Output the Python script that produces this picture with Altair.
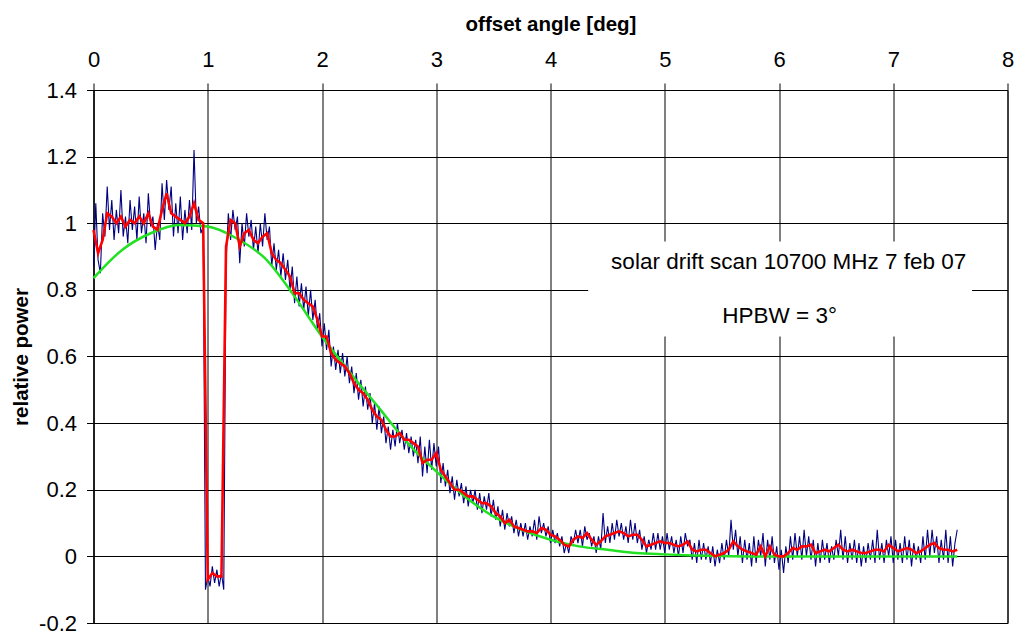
import altair as alt
import numpy as np
import pandas as pd

# Raw receiver samples, one every 0.02 deg of offset angle (10 per row = 0.2 deg)
RAW_STEP = 0.02
raw_power = [
    0.87, 1.06, 0.89, 0.85, 1.03, 0.96, 1.11, 0.98, 1.07, 0.95,
    1.04, 0.97, 1.10, 0.96, 1.02, 0.94, 1.07, 0.98, 1.05, 0.95,
    1.08, 0.97, 1.03, 0.94, 1.09, 0.99, 1.02, 0.92, 1.00, 0.95,
    1.12, 1.01, 1.13, 1.04, 1.11, 0.96, 1.06, 0.97, 1.08, 0.95,
    1.04, 0.97, 1.07, 0.98, 1.22, 1.00, 1.05, 0.97, 0.99, -0.10,
    -0.06, -0.09, -0.03, -0.08, -0.04, -0.09, -0.05, -0.10, 0.88, 1.03,
    0.95, 1.04, 0.98, 1.02, 0.88, 1.00, 0.93, 1.03, 0.96, 1.01,
    0.92, 0.99, 0.91, 1.00, 0.93, 1.03, 0.95, 0.99, 0.87, 0.94,
    0.86, 0.92, 0.84, 0.91, 0.83, 0.89, 0.80, 0.87, 0.76, 0.84,
    0.75, 0.82, 0.74, 0.81, 0.72, 0.80, 0.71, 0.77, 0.68, 0.73,
    0.63, 0.70, 0.62, 0.68, 0.57, 0.63, 0.56, 0.62, 0.55, 0.61,
    0.54, 0.60, 0.52, 0.57, 0.49, 0.55, 0.47, 0.53, 0.45, 0.51,
    0.44, 0.49, 0.40, 0.46, 0.38, 0.45, 0.37, 0.42, 0.34, 0.39,
    0.32, 0.38, 0.33, 0.40, 0.34, 0.38, 0.32, 0.37, 0.31, 0.36,
    0.30, 0.35, 0.28, 0.36, 0.24, 0.33, 0.25, 0.35, 0.26, 0.34,
    0.27, 0.33, 0.22, 0.28, 0.21, 0.26, 0.19, 0.24, 0.17, 0.23,
    0.18, 0.22, 0.16, 0.21, 0.15, 0.20, 0.16, 0.20, 0.14, 0.19,
    0.13, 0.18, 0.14, 0.19, 0.12, 0.17, 0.11, 0.15, 0.09, 0.14,
    0.08, 0.13, 0.09, 0.12, 0.07, 0.11, 0.06, 0.10, 0.06, 0.10,
    0.05, 0.09, 0.06, 0.11, 0.05, 0.12, 0.07, 0.10, 0.06, 0.09,
    0.04, 0.08, 0.04, 0.07, 0.03, 0.06, 0.01, 0.04, 0.01, 0.06,
    0.04, 0.08, 0.04, 0.08, 0.03, 0.09, 0.05, 0.07, 0.03, 0.06,
    0.01, 0.06, 0.02, 0.13, 0.04, 0.09, 0.04, 0.10, 0.05, 0.11,
    0.06, 0.10, 0.05, 0.09, 0.04, 0.11, 0.05, 0.10, 0.04, 0.08,
    0.02, 0.06, 0.01, 0.05, 0.02, 0.07, 0.02, 0.07, 0.02, 0.06,
    0.01, 0.07, 0.02, 0.06, 0.01, 0.05, 0.00, 0.06, 0.01, 0.07,
    0.03, 0.05, -0.01, 0.04, -0.02, 0.05, -0.01, 0.04, -0.01, 0.03,
    -0.02, 0.03, -0.03, 0.02, -0.02, 0.04, -0.01, 0.05, 0.00, 0.11,
    0.02, 0.08, 0.00, 0.06, -0.02, 0.05, -0.01, 0.04, -0.03, 0.06,
    -0.02, 0.05, 0.00, 0.07, -0.03, 0.05, -0.01, 0.06, -0.02, 0.03,
    -0.04, 0.02, -0.05, 0.03, -0.02, 0.06, -0.01, 0.07, 0.00, 0.06,
    -0.01, 0.08, 0.00, 0.06, -0.01, 0.05, -0.03, 0.04, -0.02, 0.05,
    -0.01, 0.04, -0.02, 0.03, -0.01, 0.05, 0.00, 0.08, -0.01, 0.06,
    -0.02, 0.04, -0.01, 0.05, -0.02, 0.04, -0.03, 0.03, -0.02, 0.04,
    -0.01, 0.05, -0.02, 0.08, -0.01, 0.04, -0.02, 0.05, 0.00, 0.06,
    -0.02, 0.05, -0.01, 0.04, -0.02, 0.06, -0.01, 0.05, -0.03, 0.04,
    -0.01, 0.03, -0.02, 0.06, -0.01, 0.08, 0.00, 0.08, 0.01, 0.06,
    -0.02, 0.05, -0.01, 0.08, -0.02, 0.06, -0.03, 0.04, 0.08,
]

# Running mean of the scan, one value every 0.04 deg (10 per row = 0.4 deg)
SMOOTH_STEP = 0.04
smooth_power = [
    0.98, 0.91, 0.95, 1.03, 1.02, 1.00, 1.02, 0.99, 1.01, 1.00,
    1.02, 1.00, 1.03, 0.99, 0.98, 1.04, 1.09, 1.03, 1.02, 1.01,
    1.00, 1.02, 1.06, 1.01, 1.00, -0.07, -0.05, -0.06, -0.06, 0.93,
    1.01, 1.00, 0.93, 0.97, 0.98, 0.95, 0.94, 0.96, 0.97, 0.91,
    0.89, 0.88, 0.86, 0.84, 0.79, 0.79, 0.77, 0.76, 0.75, 0.71,
    0.66, 0.66, 0.61, 0.59, 0.58, 0.57, 0.55, 0.52, 0.50, 0.49,
    0.47, 0.44, 0.42, 0.41, 0.38, 0.36, 0.36, 0.37, 0.35, 0.35,
    0.34, 0.33, 0.28, 0.29, 0.29, 0.31, 0.26, 0.24, 0.22, 0.20,
    0.20, 0.19, 0.18, 0.18, 0.17, 0.16, 0.16, 0.15, 0.13, 0.12,
    0.10, 0.11, 0.09, 0.085, 0.08, 0.075, 0.075, 0.07, 0.085, 0.08,
    0.065, 0.06, 0.05, 0.035, 0.03, 0.05, 0.06, 0.055, 0.07, 0.05,
    0.035, 0.045, 0.06, 0.065, 0.07, 0.075, 0.07, 0.06, 0.065, 0.065,
    0.05, 0.03, 0.035, 0.04, 0.045, 0.04, 0.04, 0.035, 0.03, 0.035,
    0.045, 0.02, 0.015, 0.02, 0.02, 0.01, 0.0, 0.005, 0.01, 0.02,
    0.045, 0.03, 0.02, 0.015, 0.01, 0.005, 0.03, 0.0, 0.03, 0.005,
    0.0, 0.0, 0.01, 0.025, 0.02, 0.03, 0.03, 0.035, 0.01, 0.015,
    0.02, 0.015, 0.025, 0.035, 0.02, 0.015, 0.02, 0.015, 0.01, 0.01,
    0.015, 0.02, 0.02, 0.015, 0.035, 0.025, 0.015, 0.02, 0.025, 0.02,
    0.01, 0.015, 0.025, 0.035, 0.04, 0.025, 0.02, 0.02, 0.015, 0.02,
]

# Fitted beam pattern (HPBW = 3 deg)
fit_angle = [0.0, 0.25, 0.5, 0.75, 1.0, 1.25, 1.5, 1.75, 2.0, 2.25, 2.5, 2.75,
             3.0, 3.25, 3.5, 3.75, 4.0, 4.25, 4.5, 4.75, 5.0, 5.25, 5.5, 5.75,
             6.0, 6.5, 7.0, 7.56]
fit_power = [0.835, 0.92, 0.97, 0.995, 0.99, 0.955, 0.895, 0.785, 0.66, 0.55, 0.445, 0.34,
             0.255, 0.18, 0.12, 0.08, 0.05, 0.03, 0.02, 0.01, 0.006, 0.003, 0.001, 0.0,
             0.0, 0.0, 0.0, 0.0]

x_ticks = [0, 1, 2, 3, 4, 5, 6, 7, 8]
y_ticks = [-0.2, 0, 0.2, 0.4, 0.6, 0.8, 1.0, 1.2, 1.4]

note_lines = ["solar drift scan 10700 MHz 7 feb 07", "HPBW = 3°"]

FONT = "Liberation Sans, Arial, sans-serif"

raw = pd.DataFrame({
    "angle": np.round(np.arange(len(raw_power)) * RAW_STEP, 3),
    "power": raw_power,
})
smooth = pd.DataFrame({
    "angle": np.round(np.arange(len(smooth_power)) * SMOOTH_STEP, 3),
    "power": smooth_power,
})
fit = pd.DataFrame({"angle": fit_angle, "power": fit_power})

# White caption box and its two lines, placed in data units
box = pd.DataFrame({"angle": [4.33], "angle2": [7.69], "power": [0.66], "power2": [0.945]})
notes = pd.DataFrame({"angle": [6.085, 6.005], "power": [0.884, 0.722], "label": note_lines})

PLOT_W, PLOT_H = 914, 533

x_scale = alt.Scale(domain=[0, 8], nice=False, zero=False)
y_scale = alt.Scale(domain=[-0.2, 1.4], nice=False, zero=False)

x_axis = alt.Axis(
    orient="top", values=x_ticks, title="offset angle [deg]",
    grid=True, gridColor="black", gridOpacity=1, gridWidth=1,
    domainColor="black", tickColor="black", tickSize=7,
    labelFont=FONT, labelFontSize=22, labelColor="black",
    labelBaseline="alphabetic", labelPadding=17, labelFlush=False,
    titleFont=FONT, titleFontSize=20.5, titleFontWeight="bold", titleColor="black",
    titleBaseline="alphabetic", titleY=-60, titleX=PLOT_W / 2,
)
y_axis = alt.Axis(
    values=y_ticks, title="relative power",
    labelExpr="toString(round(datum.value * 10) / 10)",
    grid=True, gridColor="black", gridOpacity=1, gridWidth=1,
    domainColor="black", tickColor="black", tickSize=7,
    labelFont=FONT, labelFontSize=22, labelColor="black", labelPadding=10,
    titleFont=FONT, titleFontSize=20.5, titleFontWeight="bold", titleColor="black",
    titleAngle=270, titleBaseline="bottom", titleX=-62, titleY=PLOT_H / 2,
)

X = alt.X("angle:Q", scale=x_scale, axis=x_axis)
Y = alt.Y("power:Q", scale=y_scale, axis=y_axis)

raw_line = alt.Chart(raw).mark_line(color="#000080", strokeWidth=1.1).encode(x=X, y=Y)
fit_line = alt.Chart(fit).mark_line(color="#22E022", strokeWidth=2.5, interpolate="monotone").encode(x=X, y=Y)
smooth_line = alt.Chart(smooth).mark_line(color="#FF0000", strokeWidth=2.6).encode(x=X, y=Y)

caption_box = alt.Chart(box).mark_rect(fill="white").encode(
    x=X, x2="angle2:Q", y=Y, y2="power2:Q"
)
caption_text = alt.Chart(notes).mark_text(
    font=FONT, fontSize=22.5, color="black", align="center", baseline="middle"
).encode(x=X, y=Y, text="label:N")

chart = (
    alt.layer(raw_line, fit_line, smooth_line, caption_box, caption_text)
    .properties(
        width=PLOT_W, height=PLOT_H, autosize="none",
        padding={"left": 93.5, "top": 90, "right": 6.5, "bottom": 9},
        background="white",
    )
    .configure_view(stroke="black", strokeWidth=1)
)

chart.save("out.html", embed_options={"renderer": "svg", "actions": False})
